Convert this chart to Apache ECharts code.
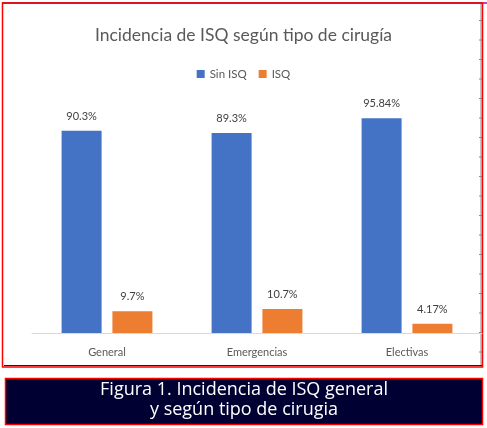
<!DOCTYPE html>
<html>
<head>
<meta charset="utf-8">
<script src="https://cdn.jsdelivr.net/npm/echarts@6/dist/echarts.min.js"></script>
<style>
  html, body { margin: 0; padding: 0; background: #fff; }
  #chart { width: 487px; height: 428px; }
</style>
</head>
<body>
<div id="chart"></div>
<script>
const categories = ['General', 'Emergencias', 'Electivas']
const sinIsq = [90.3, 89.3, 95.84]
const isq = [9.7, 10.7, 4.17]
const sinIsqLabels = ['90.3%', '89.3%', '95.84%']
const isqLabels = ['9.7%', '10.7%', '4.17%']

const chartDom = document.getElementById('chart')
const myChart = echarts.init(chartDom)

// little ruler ticks on the right edge of the frame
const rulerTicks = []
for (let y = 333 + 19; y > 5; y -= 19.5) {
  rulerTicks.push({
    type: 'line',
    shape: { x1: 479, y1: y, x2: 483, y2: y },
    style: { stroke: '#8c8c8c', lineWidth: 1 },
    silent: true,
  })
}

const option = {
  animation: false,
  title: {
    text: 'Incidencia de ISQ según tipo de cirugía',
    left: 'center',
    top: 21,
    textStyle: {
      fontFamily: 'Lato',
      fontSize: 17.5,
      fontWeight: 'normal',
      color: '#595959',
    },
  },
  legend: {
    data: ['Sin ISQ', 'ISQ'],
    top: 63,
    left: 'center',
    itemWidth: 8,
    itemHeight: 8,
    itemGap: 12,
    icon: 'rect',
    textStyle: { fontFamily: 'Lato', fontSize: 11.5, color: '#595959' },
  },
  grid: { left: 32, right: 5, top: 109, bottom: 95 },
  xAxis: {
    type: 'category',
    data: categories,
    axisLine: { lineStyle: { color: '#d9d9d9' } },
    axisTick: { show: false },
    axisLabel: { fontFamily: 'Lato', fontSize: 11, color: '#595959', margin: 14 },
  },
  yAxis: {
    type: 'value',
    min: 0,
    max: 100,
    show: false,
    splitLine: { show: false },
  },
  series: [
    {
      name: 'Sin ISQ',
      type: 'bar',
      data: sinIsq,
      barWidth: 40,
      barGap: '27%',
      itemStyle: { color: '#4472C4' },
      label: {
        show: true,
        position: 'top',
        distance: 9,
        fontFamily: 'Lato',
        fontSize: 11,
        color: '#404040',
        formatter: (p) => sinIsqLabels[p.dataIndex],
      },
    },
    {
      name: 'ISQ',
      type: 'bar',
      data: isq,
      barWidth: 40,
      itemStyle: { color: '#ED7D31' },
      label: {
        show: true,
        position: 'top',
        distance: 9,
        fontFamily: 'Lato',
        fontSize: 11,
        color: '#404040',
        formatter: (p) => isqLabels[p.dataIndex],
      },
    },
  ],
  graphic: [
    // chart frame
    {
      type: 'line',
      shape: { x1: 2, y1: 3, x2: 487, y2: 3 },
      style: { stroke: '#3a1070', lineWidth: 1.5 },
      silent: true,
    },
    {
      type: 'line',
      shape: { x1: 482, y1: 3, x2: 487, y2: 3 },
      style: { stroke: '#e040e0', lineWidth: 1.5 },
      silent: true,
    },
    {
      type: 'line',
      shape: { x1: 481, y1: 4, x2: 481, y2: 366 },
      style: { stroke: '#8c8c8c', lineWidth: 1 },
      silent: true,
    },
    ...rulerTicks,
    {
      type: 'line',
      shape: { x1: 4, y1: 365.5, x2: 482, y2: 365.5 },
      style: { stroke: '#1a1050', lineWidth: 1 },
      silent: true,
    },
    {
      type: 'rect',
      shape: { x: 2.5, y: 3, width: 480, height: 364 },
      style: { fill: 'none', stroke: '#ff0000', lineWidth: 1.5 },
      silent: true,
    },
    // caption box
    {
      type: 'rect',
      shape: { x: 5.5, y: 378.5, width: 477, height: 46 },
      style: { fill: '#000033', stroke: '#ff0000', lineWidth: 1.5 },
      silent: true,
    },
    {
      type: 'text',
      x: 244,
      y: 390,
      style: {
        text: 'Figura 1. Incidencia de ISQ general',
        fill: '#ffffff',
        font: '18px "Open Sans"',
        align: 'center',
        verticalAlign: 'middle',
      },
      silent: true,
    },
    {
      type: 'text',
      x: 244,
      y: 410,
      style: {
        text: 'y según tipo de cirugia',
        fill: '#ffffff',
        font: '18px "Open Sans"',
        align: 'center',
        verticalAlign: 'middle',
      },
      silent: true,
    },
  ],
}
option && myChart.setOption(option)
</script>
</body>
</html>
